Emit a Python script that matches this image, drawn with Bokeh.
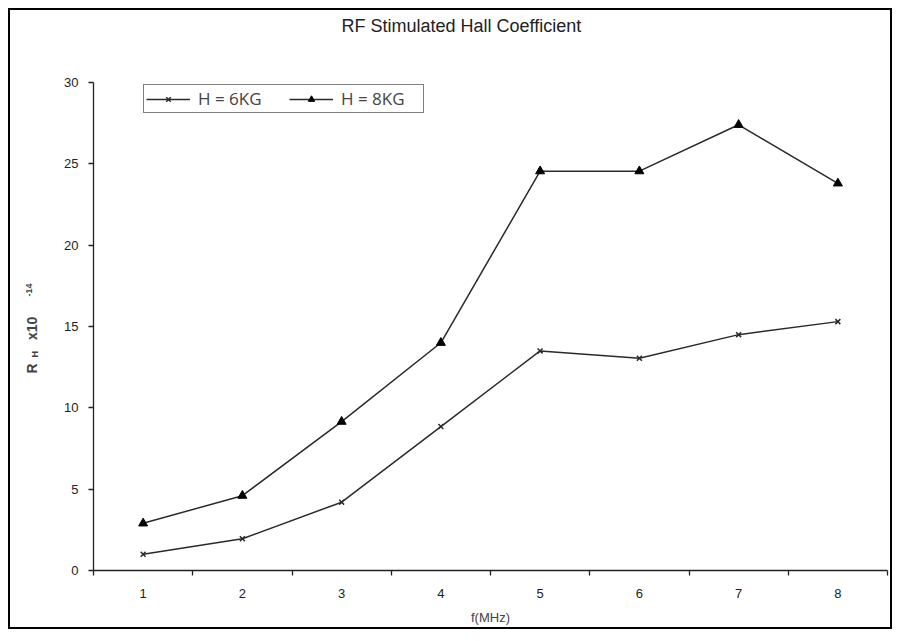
from bokeh.plotting import figure
from bokeh.models import (FixedTicker, Legend, LegendItem, Range1d, Title)
from bokeh.embed import file_html
from bokeh.resources import INLINE

freq = [1, 2, 3, 4, 5, 6, 7, 8]
h6 = [1.0, 1.95, 4.2, 8.85, 13.5, 13.05, 14.5, 15.3]
h8 = [2.9, 4.6, 9.15, 14.0, 24.55, 24.55, 27.4, 23.8]
y_ticks = [0, 5, 10, 15, 20, 25, 30]
x_minor = [0.5, 1.5, 2.5, 3.5, 4.5, 5.5, 6.5, 7.5, 8.5]
title_text = "RF Stimulated Hall Coefficient"
NB = "\u00a0"
ylab_main = "R" + NB * 6 + "x10"
ylab_sub = "H"
ylab_sup = "-14"

p = figure(width=884, height=621, output_backend="svg", toolbar_location=None,
           x_range=Range1d(0.5, 8.5), y_range=Range1d(0, 30),
           min_border_left=83, min_border_right=7, min_border_top=71, min_border_bottom=61)
p.styles = {"border": "2px solid black", "margin-left": "8px", "margin-top": "8px"}
p.outline_line_color = None
p.grid.grid_line_color = None
p.background_fill_color = "white"

FONT = "Liberation Sans"
p.title.text = title_text + "\n\n"
p.title.align = "left"
p.title.offset = 248
p.title.vertical_align = "top"
p.title.standoff = 10
p.title.text_font = FONT
p.title.text_font_size = "18px"
p.title.text_font_style = "normal"
p.title.text_color = "#222222"

for ax in (p.xaxis[0], p.yaxis[0]):
    ax.axis_line_color = "#222222"
    ax.axis_line_width = 1.3
    ax.major_label_text_font = FONT
    ax.major_label_text_font_size = "13px"
    ax.major_label_text_color = "#222222"

p.xaxis.ticker = FixedTicker(ticks=freq, minor_ticks=x_minor)
p.xaxis.major_tick_line_color = None
p.xaxis.minor_tick_in = 0
p.xaxis.minor_tick_out = 5
p.xaxis.minor_tick_line_color = "#222222"
p.xaxis.minor_tick_line_width = 1.3
p.xaxis.major_label_standoff = 12
p.xaxis.axis_label = "f(MHz)"
p.xaxis.axis_label_text_font = FONT
p.xaxis.axis_label_text_font_style = "normal"
p.xaxis.axis_label_text_font_size = "13px"
p.xaxis.axis_label_standoff = 9

p.yaxis.ticker = FixedTicker(ticks=y_ticks)
p.yaxis.minor_tick_line_color = None
p.yaxis.major_tick_in = 0
p.yaxis.major_tick_out = 5
p.yaxis.major_tick_line_color = "#222222"
p.yaxis.major_tick_line_width = 1.3
p.yaxis.major_label_standoff = 10

# y-axis label built from three zero-width titles on the left side
p.add_layout(Title(text=ylab_sub, align="left", offset=213, vertical_align="top",
                   standoff=-64, text_font=FONT, text_font_style="bold",
                   text_font_size="9px"), "left")
p.add_layout(Title(text=ylab_main, align="left", offset=197, vertical_align="top",
                   standoff=-76, text_font=FONT, text_font_style="bold",
                   text_font_size="14px"), "left")
p.add_layout(Title(text=ylab_sup, align="left", offset=274, vertical_align="top",
                   standoff=-72, text_font=FONT, text_font_style="bold",
                   text_font_size="9px"), "left")

LC = "#2a2a2a"
l6 = p.line(freq, h6, line_color=LC, line_width=1.5)
m6 = p.scatter(freq, h6, marker="x", size=7, line_color=LC, line_width=1.5)
l8 = p.line(freq, h8, line_color=LC, line_width=1.5)
m8 = p.scatter(freq, h8, marker="triangle", size=9, fill_color="black", line_color="black")

legend = Legend(items=[LegendItem(label="H = 6KG", renderers=[l6, m6]),
                       LegendItem(label="H = 8KG", renderers=[l8, m8])],
                location=(50, 457), orientation="horizontal",
                label_text_font="Open Sans", label_text_font_size="17px",
                label_text_font_style="normal", label_height=20, label_width=80,
                glyph_width=44, glyph_height=16, label_standoff=8, spacing=11,
                padding=2, margin=0, border_line_color="black", border_line_width=1.5,
                background_fill_alpha=1)
p.add_layout(legend, "center")

open("out.html", "w").write(file_html(p, INLINE))
